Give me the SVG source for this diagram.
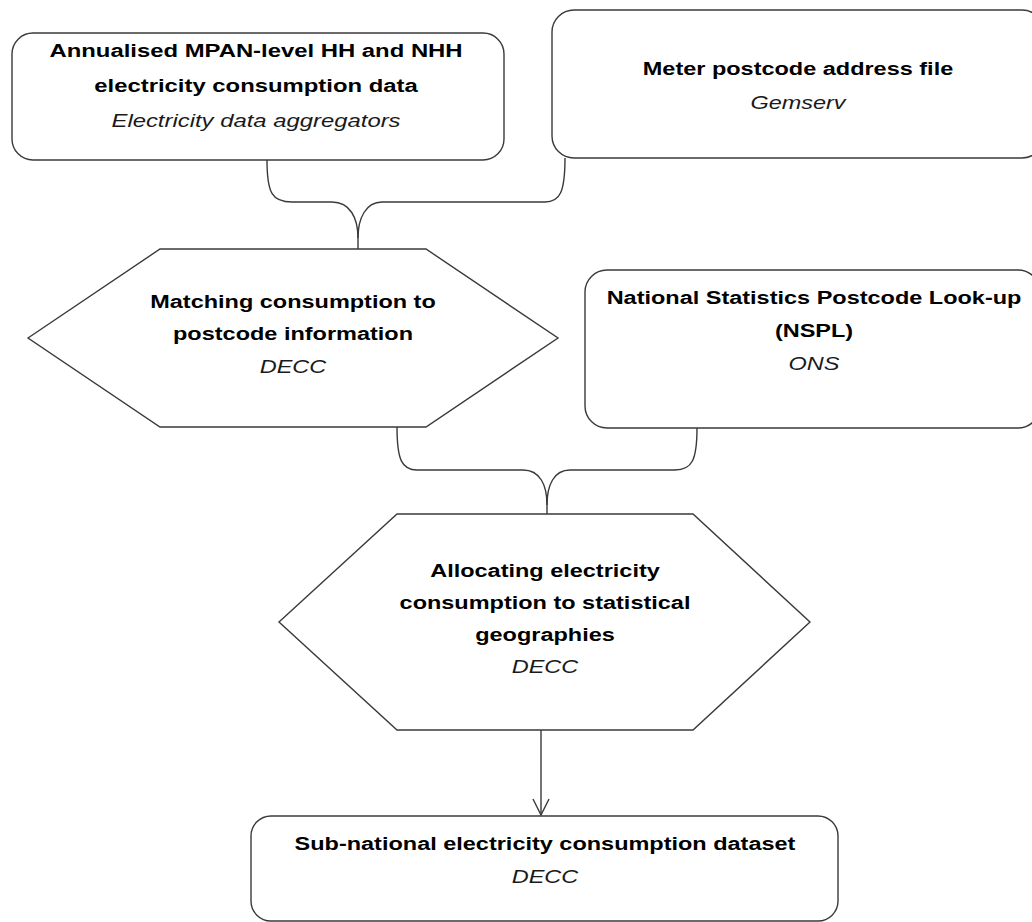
<svg xmlns="http://www.w3.org/2000/svg" width="1032" height="922" viewBox="0 0 1032 922">
<defs>
<style>
.shape{fill:#fff;stroke:#3a3a3a;stroke-width:1.4}
.conn{fill:none;stroke:#3a3a3a;stroke-width:1.4}
.t{font-family:"Liberation Sans",Arial,sans-serif;font-size:18.5px;fill:#000;text-anchor:middle}
.b{font-weight:bold}
.i{font-style:italic;fill:#1a1a1a}
</style>
<marker id="arr" viewBox="0 0 20 20" refX="19" refY="10" markerWidth="20" markerHeight="20" markerUnits="userSpaceOnUse" orient="auto">
<path d="M3,2 L19,10 L3,18" fill="none" stroke="#3a3a3a" stroke-width="1.4"/>
</marker>
</defs>
<rect width="1032" height="922" fill="#fff"/>
<g id="connectors">
<path class="conn" d="M267,160 C267,193 272,202 292,202 L332,202 C350,202 358,218 358,238 L358,249"/>
<path class="conn" d="M565,158 C565,192 560,202 545,202 L382,202 C366,202 358,218 358,238"/>
<path class="conn" d="M397,427 C397,460 402,470 417,470 L523,470 C540,470 547,485 547,505 L547,514"/>
<path class="conn" d="M697,428 C697,460 692,470 675,470 L570,470 C554,470 547,485 547,505"/>
<line class="conn" x1="541" y1="730" x2="541" y2="815" marker-end="url(#arr)"/>
</g>
<g id="node-mpan">
<rect class="shape" x="12" y="33" width="492" height="127" rx="21"/>
<g transform="translate(256 0) scale(1.29 1)">
<text class="t b" x="0" y="57">Annualised MPAN-level HH and NHH</text>
<text class="t b" x="0" y="92">electricity consumption data</text>
<text class="t i" x="0" y="127">Electricity data aggregators</text>
</g>
</g>
<g id="node-meter">
<rect class="shape" x="552" y="10" width="492" height="148" rx="22"/>
<g transform="translate(798 0) scale(1.27 1)">
<text class="t b" x="0" y="75">Meter postcode address file</text>
<text class="t i" x="0" y="109">Gemserv</text>
</g>
</g>
<g id="node-matching">
<polygon class="shape" points="28,338 160,249 426,249 558,338 426,427 160,427"/>
<g transform="translate(293 0) scale(1.27 1)">
<text class="t b" x="0" y="308">Matching consumption to</text>
<text class="t b" x="0" y="340">postcode information</text>
<text class="t i" x="0" y="373">DECC</text>
</g>
</g>
<g id="node-nspl">
<rect class="shape" x="585" y="270" width="455" height="158" rx="22"/>
<g transform="translate(814 0) scale(1.27 1)">
<text class="t b" x="0" y="304">National Statistics Postcode Look-up</text>
<text class="t b" x="0" y="337">(NSPL)</text>
<text class="t i" x="0" y="370">ONS</text>
</g>
</g>
<g id="node-allocating">
<polygon class="shape" points="279,622 397,514 693,514 810,622 693,730 397,730"/>
<g transform="translate(545 0) scale(1.27 1)">
<text class="t b" x="0" y="577">Allocating electricity</text>
<text class="t b" x="0" y="609">consumption to statistical</text>
<text class="t b" x="0" y="641">geographies</text>
<text class="t i" x="0" y="673">DECC</text>
</g>
</g>
<g id="node-dataset">
<rect class="shape" x="251" y="816" width="587" height="105" rx="20"/>
<g transform="translate(545 0) scale(1.27 1)">
<text class="t b" x="0" y="850">Sub-national electricity consumption dataset</text>
<text class="t i" x="0" y="883">DECC</text>
</g>
</g>
</svg>
